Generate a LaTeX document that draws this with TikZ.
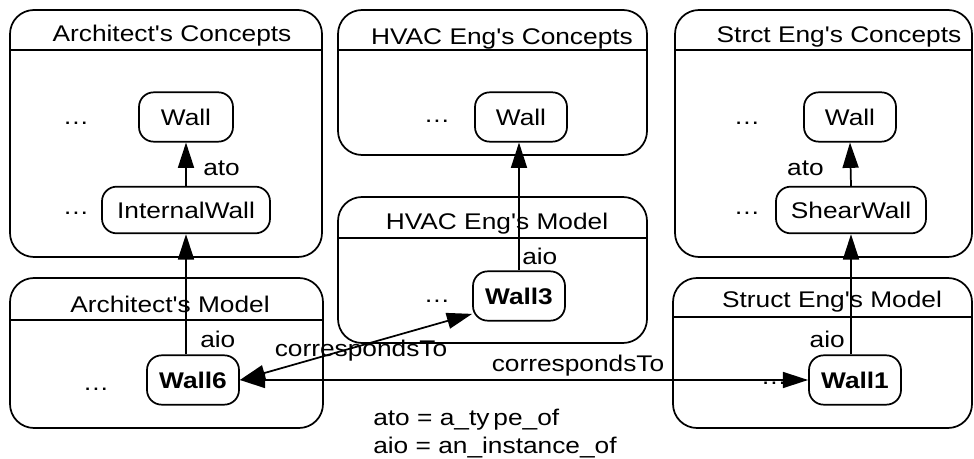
\documentclass[tikz,border=0pt]{standalone}
\usepackage{fontspec}
\newfontfamily\diagfont{Liberation Sans}[FakeStretch=1.16]
\usetikzlibrary{arrows.meta,calc}
\begin{document}
\begin{tikzpicture}[x=0.75pt,y=-0.75pt,
  every node/.style={font={\diagfont\fontsize{17pt}{20pt}\selectfont}, inner sep=0pt},
  box/.style={draw, line width=1.3pt, rounded corners=18pt},
  hdr/.style={line width=1.3pt},
  ttl/.style={anchor=base},
  cls/.style={draw, line width=1.3pt, rounded corners=11pt, minimum height=37pt},
  inst/.style={cls, font={\diagfont\fontsize{17pt}{20pt}\selectfont\bfseries}},
  rel/.style={line width=1.3pt, -{Triangle[length=19pt,width=12pt]}},
  both/.style={line width=1.3pt, {Triangle[length=19pt,width=12pt]}-{Triangle[length=19pt,width=12pt]}},
]
\useasboundingbox (0,0) rectangle (974,459);

% containers
\draw[box] (10,10) rectangle (322,257);  \draw[hdr] (10,50) -- (322,50);
\draw[box] (338,10) rectangle (647,155); \draw[hdr] (338,50) -- (647,50);
\draw[box] (675,10) rectangle (972,257); \draw[hdr] (675,50) -- (972,50);
\draw[box] (338,197) rectangle (647,343); \draw[hdr] (338,238) -- (647,238);
\draw[box] (10,278) rectangle (323,428); \draw[hdr] (10,320) -- (323,320);
\draw[box] (673,278) rectangle (972,428); \draw[hdr] (673,317) -- (972,317);

% titles
\node[ttl] (t1) at (172,42) {Architect's Concepts};
\node[ttl] (t2) at (502,45) {HVAC Eng's Concepts};
\node[ttl] (t3) at (839,43) {Strct Eng's Concepts};
\node[ttl] (t4) at (497,230) {HVAC Eng's Model};
\node[ttl] (t5) at (170,313) {Architect's Model};
\node[ttl] (t6) at (832,308) {Struct Eng's Model};

% dots
\node[ttl] (d1) at (76,125) {…};
\node[ttl] (d2) at (76,215) {…};
\node[ttl] (d3) at (437,123) {…};
\node[ttl] (d4) at (437,303) {…};
\node[ttl] (d5) at (747,125) {…};
\node[ttl] (d6) at (747,215) {…};
\node[ttl] (d7) at (96,390) {…};
\node[ttl] (d8) at (774,384) {…};

% classes
\node[cls, minimum width=70.5pt] (aw) at (186,117) {Wall};
\node[cls, minimum width=126pt, minimum height=35pt] (aiw) at (186,210) {InternalWall};
\node[cls, minimum width=69pt] (hw) at (521,117) {Wall};
\node[cls, minimum width=69pt] (sw) at (850,117) {Wall};
\node[cls, minimum width=112.5pt, minimum height=35pt] (ssw) at (851,210) {ShearWall};

% instances
\node[inst, minimum width=69pt] (w3) at (519,296) {Wall3};
\node[inst, minimum width=69pt] (w6) at (193,380) {Wall6};
\node[inst, minimum width=69pt] (w1) at (855,380) {Wall1};

% ato
\draw[rel] (aiw.north) -- (aw.south);
\draw[rel] (ssw.north) -- (sw.south);
\node[ttl, anchor=base west] (l1) at (203,176) {ato};
\node[ttl, anchor=base east] (l2) at (824,176) {ato};

% aio
\draw[rel] (aiw.south |- w6.north) -- (aiw.south);
\draw[rel] (w3.north) -- (w3.north |- hw.south);
\draw[rel] (ssw.south |- w1.north) -- (ssw.south);
\node[ttl, anchor=base west] (l3) at (200,348) {aio};
\node[ttl, anchor=base west] (l4) at (522,265) {aio};
\node[ttl, anchor=base east] (l5) at (845,348) {aio};

% correspondsTo
\draw[both] (w6.east) -- ($(w3.west)!0.7!(w3.south west)$);
\draw[both] (w6.east) -- (w1.west);
\node[ttl] (c1) at (361,357) {correspondsTo};
\node[ttl] (c2) at (578,372) {correspondsTo};

% legend
\node[ttl, anchor=base west] (n1) at (373,425) {ato = a\_ty\kern3pt pe\_of};
\node[ttl, anchor=base west] (n2) at (373,453) {aio = an\_instance\_of};
\end{tikzpicture}
\end{document}
